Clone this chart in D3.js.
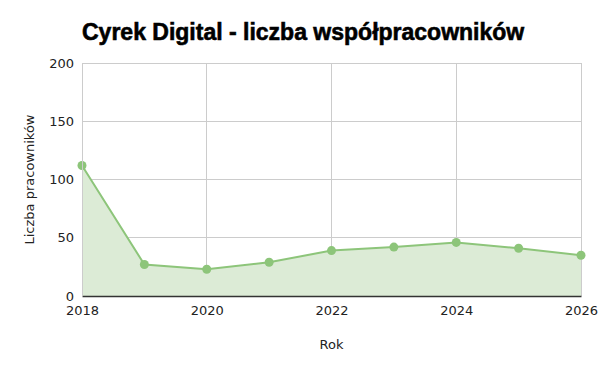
<!DOCTYPE html>
<html lang="pl">
<head>
    <meta charset="UTF-8">
    <title>Cyrek Digital</title>
    <style>
        body { margin: 0; background: #fff; }
        #chart { font-family: "DejaVu Sans", Verdana, sans-serif; }
        .grid line { stroke: #cccccc; stroke-width: 1px; shape-rendering: crispEdges; }
        .tick text { font-size: 13px; fill: #222; }
    </style>
    <script src="https://d3js.org/d3.v7.min.js"></script>
</head>
<body>
    <div id="chart"></div>
    <script>
        // Data
        const years = [2018, 2019, 2020, 2021, 2022, 2023, 2024, 2025, 2026];
        const employees = [112, 27, 23, 29, 39, 42, 46, 41, 35];
        const xTicks = [2018, 2020, 2022, 2024, 2026];
        const yTicks = [0, 50, 100, 150, 200];

        const margin = { top: 63, right: 19, bottom: 75, left: 82 };
        const width = 600 - margin.left - margin.right;
        const height = 371 - margin.top - margin.bottom;

        const svg = d3.select("#chart")
            .append("svg")
            .attr("width", 600)
            .attr("height", 371);

        // Title
        svg.append("text")
            .attr("x", 82)
            .attr("y", 40)
            .style("font-family", "'Liberation Sans', Arial, sans-serif")
            .style("font-weight", "bold")
            .style("font-size", "23px")
            .style("stroke", "#000")
            .style("stroke-width", "0.6px")
            .text("Cyrek Digital - liczba współpracowników");

        const g = svg.append("g")
            .attr("transform", `translate(${margin.left},${margin.top})`);

        const x = d3.scaleLinear().domain([2018, 2026]).range([0, width]);
        const y = d3.scaleLinear().domain([0, 200]).range([height, 0]);

        // Grid
        g.append("g").attr("class", "grid")
            .selectAll("line.h").data(yTicks).enter().append("line")
            .attr("x1", 0).attr("x2", width)
            .attr("y1", d => y(d)).attr("y2", d => y(d));
        g.append("g").attr("class", "grid")
            .selectAll("line.v").data(xTicks).enter().append("line")
            .attr("x1", d => x(d)).attr("x2", d => x(d))
            .attr("y1", 0).attr("y2", height);

        const data = years.map((yr, i) => ({ year: yr, value: employees[i] }));

        // Area
        const area = d3.area()
            .x(d => x(d.year))
            .y0(height)
            .y1(d => y(d.value));
        g.append("path")
            .datum(data)
            .attr("d", area)
            .attr("fill", "#dcebd6");

        // Line
        const line = d3.line()
            .x(d => x(d.year))
            .y(d => y(d.value));
        g.append("path")
            .datum(data)
            .attr("d", line)
            .attr("fill", "none")
            .attr("stroke", "#8dc57a")
            .attr("stroke-width", 2);

        // Dots
        g.selectAll(".dot")
            .data(data)
            .enter().append("circle")
            .attr("class", "dot")
            .attr("cx", d => x(d.year))
            .attr("cy", d => y(d.value))
            .attr("r", 4.5)
            .attr("fill", "#8dc57a");

        // Axes
        const xAxis = g.append("g")
            .attr("transform", `translate(0,${height})`)
            .call(d3.axisBottom(x).tickValues(xTicks).tickFormat(d3.format("d")).tickSize(0).tickPadding(10));
        xAxis.select(".domain").attr("stroke", "#333").attr("stroke-width", 1.5);

        const yAxis = g.append("g")
            .call(d3.axisLeft(y).tickValues(yTicks).tickSize(0).tickPadding(8));
        yAxis.select(".domain").attr("stroke", "#cccccc");

        svg.selectAll(".tick text")
            .style("font-family", "'DejaVu Sans', Verdana, sans-serif")
            .style("font-size", "13px");

        // Axis labels
        svg.append("text")
            .attr("x", margin.left + width / 2)
            .attr("y", 349)
            .attr("text-anchor", "middle")
            .style("font-size", "13px")
            .style("fill", "#222")
            .text("Rok");

        svg.append("text")
            .attr("transform", `translate(34,${margin.top + height / 2}) rotate(-90)`)
            .attr("text-anchor", "middle")
            .style("font-size", "13px")
            .style("fill", "#222")
            .text("Liczba pracowników");
    </script>
</body>
</html>
